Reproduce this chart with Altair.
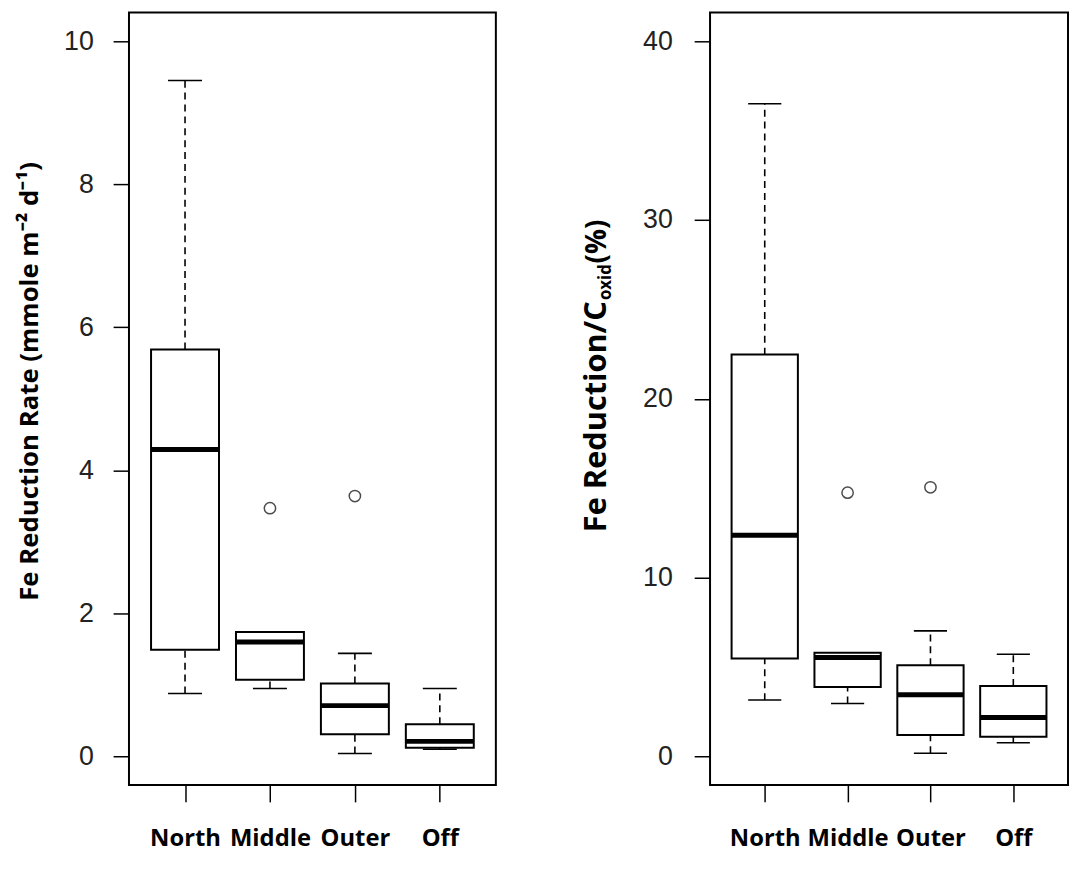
import altair as alt
import pandas as pd

sites = ["North", "Middle", "Outer", "Off"]
site_pos = [1, 2, 3, 4]

# Left panel: Fe reduction rate (mmole m-2 d-1)
rate_low = [0.88, 0.95, 0.04, 0.10]
rate_q1 = [1.49, 1.07, 0.31, 0.12]
rate_med = [4.29, 1.60, 0.71, 0.21]
rate_q3 = [5.69, 1.74, 1.02, 0.45]
rate_high = [9.45, 1.74, 1.44, 0.95]
rate_out_pos = [2, 3]
rate_out_val = [3.47, 3.64]
rate_ticks = [0, 2, 4, 6, 8, 10]

# Right panel: Fe reduction / C oxid (%)
pct_low = [3.15, 2.96, 0.18, 0.76]
pct_q1 = [5.47, 3.88, 1.19, 1.10]
pct_med = [12.37, 5.53, 3.45, 2.17]
pct_q3 = [22.47, 5.80, 5.10, 3.94]
pct_high = [36.5, 5.80, 7.02, 5.71]
pct_out_pos = [2, 3]
pct_out_val = [14.75, 15.05]
pct_ticks = [0, 10, 20, 30, 40]

LABEL_EXPR = "['North','Middle','Outer','Off'][datum.value-1]"
PLOT_H = 779


def panel(low, q1, med, q3, high, out_pos, out_val, ydomain, yticks, width, ylabel_pad, titles):
    box_df = pd.DataFrame({"site": sites, "pos": site_pos, "low": low, "q1": q1,
                           "med": med, "q3": q3, "high": high})
    base = alt.Chart(box_df).transform_calculate(
        x_lo="datum.pos - 0.4", x_hi="datum.pos + 0.4",
        c_lo="datum.pos - 0.2", c_hi="datum.pos + 0.2")
    xscale = alt.Scale(domain=[0.34, 4.66], nice=False, zero=False)
    yscale = alt.Scale(domain=ydomain, nice=False, zero=False)
    xaxis = alt.Axis(values=site_pos, labelExpr=LABEL_EXPR, title=None, tickSize=17,
                     labelPadding=44, labelBaseline="alphabetic",
                     labelFont="Open Sans", labelFontWeight="bold",
                     labelFontSize=24, labelColor="black", labelFlush=False,
                     labelOverlap=False)
    yaxis = alt.Axis(values=yticks, format="d", title=None, tickSize=16,
                     labelPadding=ylabel_pad,
                     labelFont="Liberation Sans", labelFontSize=27, labelColor="#222",
                     labelFlush=False, labelOverlap=False)
    dash = dict(color="black", strokeWidth=1.6, strokeDash=[7, 5])
    upper = base.mark_rule(**dash).encode(
        x=alt.X("pos:Q", scale=xscale, axis=xaxis),
        y=alt.Y("q3:Q", scale=yscale, axis=yaxis), y2="high:Q")
    lower = base.mark_rule(**dash).encode(x="pos:Q", y="low:Q", y2="q1:Q")
    cap_hi = base.mark_rule(color="black", strokeWidth=1.6).encode(
        x="c_lo:Q", x2="c_hi:Q", y="high:Q")
    cap_lo = base.mark_rule(color="black", strokeWidth=1.6).encode(
        x="c_lo:Q", x2="c_hi:Q", y="low:Q")
    box = base.mark_rect(fill="white", stroke="black", strokeWidth=2).encode(
        x="x_lo:Q", x2="x_hi:Q", y="q1:Q", y2="q3:Q")
    median = base.mark_rule(color="black", strokeWidth=5).encode(
        x="x_lo:Q", x2="x_hi:Q", y="med:Q")
    out = alt.Chart(pd.DataFrame({"pos": out_pos, "val": out_val})).mark_point(
        shape="circle", filled=False, color="black", size=130, strokeWidth=1.5
    ).encode(x="pos:Q", y="val:Q")
    layers = [upper, lower, cap_hi, cap_lo, box, median, out] + titles
    return alt.layer(*layers).properties(width=width, height=PLOT_H)


def title_piece(text, size, x, y, align):
    return alt.Chart(pd.DataFrame({"t": [text]})).mark_text(
        angle=270, font="Open Sans", fontWeight="bold", fontSize=size,
        align=align, baseline="alphabetic", color="black"
    ).encode(text="t:N", x=alt.value(x), y=alt.value(y))


left_titles = [title_piece("Fe Reduction Rate (mmole m\u207b\u00b2 d\u207b\u00b9)", 26, -92, 372, "center")]
right_titles = [
    title_piece("Fe Reduction/C", 31, -105, 291, "right"),
    title_piece("oxid", 17, -100, 290, "left"),
    title_piece("(%)", 28, -105, 253, "left"),
]

left = panel(rate_low, rate_q1, rate_med, rate_q3, rate_high, rate_out_pos, rate_out_val,
             [-0.4, 10.4], rate_ticks, 370, 20, left_titles)
right = panel(pct_low, pct_q1, pct_med, pct_q3, pct_high, pct_out_pos, pct_out_val,
              [-1.6, 41.6], pct_ticks, 361, 22, right_titles)

chart = alt.hconcat(left, right, spacing=84).configure_view(
    stroke="black", strokeWidth=2
).configure_axis(
    grid=False, domain=False, tickColor="black", tickWidth=1.5
).properties(
    padding={"left": 8, "top": 0, "right": 0, "bottom": 0}
)

chart.save("out.html", embed_options={"renderer": "svg", "actions": False})
